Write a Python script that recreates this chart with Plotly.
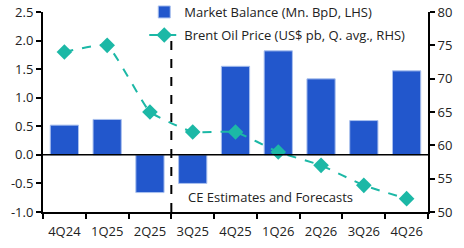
import plotly.graph_objects as go

categories = ["4Q24", "1Q25", "2Q25", "3Q25", "4Q25", "1Q26", "2Q26", "3Q26", "4Q26"]
market_balance = [0.52, 0.62, -0.66, -0.50, 1.55, 1.82, 1.33, 0.60, 1.47]
brent_price = [74, 75, 65, 62, 62, 59, 57, 54, 52]
left_ticks = [2.5, 2.0, 1.5, 1.0, 0.5, 0.0, -0.5, -1.0]
right_ticks = [80, 75, 70, 65, 60, 55, 50]

FONT = "Open Sans"
FS = 13
BLUE = "#2257CC"
TEAL = "#1CB8A6"

fig = go.Figure()
fig.add_trace(go.Bar(
    x=categories, y=market_balance, name="Market Balance (Mn. BpD, LHS)",
    marker=dict(color=BLUE, line=dict(color="#A9C0EE", width=1)), width=0.66,
    yaxis="y", legend="legend"))
fig.add_trace(go.Scatter(
    x=categories, y=brent_price, name="Brent Oil Price (US$ pb, Q. avg., RHS)",
    mode="lines+markers", line=dict(color=TEAL, width=2, dash="dash", shape="spline", smoothing=0.35),
    marker=dict(symbol="diamond", size=12, color=TEAL), yaxis="y2", legend="legend2"))

fig.add_shape(type="line", xref="x", yref="y", x0=2.5, x1=2.5, y0=-1.0, y1=2.1,
              line=dict(color="black", width=2, dash="dash"), layer="below")
fig.add_shape(type="line", xref="paper", yref="y", x0=0, x1=1, y0=0, y1=0,
              line=dict(color="black", width=1.5))
fig.add_annotation(x=2.84, y=-0.74, xref="x", yref="y", text="CE Estimates and Forecasts",
                   showarrow=False, xanchor="left", yanchor="middle",
                   font=dict(family=FONT, size=FS, color="#222"))

leg_common = dict(xanchor="left", yanchor="middle", bgcolor="rgba(0,0,0,0)",
                  font=dict(family=FONT, size=FS, color="#222"), itemwidth=30)
fig.update_layout(
    width=464, height=248, margin=dict(l=43, r=36, t=12, b=36, autoexpand=False),
    plot_bgcolor="white", paper_bgcolor="white",
    font=dict(family=FONT, size=FS, color="#222"),
    showlegend=True,
    legend=dict(x=0.263, y=1.0, **leg_common),
    legend2=dict(x=0.263, y=0.885, **leg_common),
    xaxis=dict(type="category", showgrid=False, showline=True, linecolor="black", linewidth=2,
               ticks="outside", tickson="boundaries", ticklen=5, tickwidth=2, tickcolor="black",
               range=[-0.5, 8.5], zeroline=False, ticklabelstandoff=6, tickangle=0,
               automargin=False),
    yaxis=dict(range=[-1.0, 2.5], tickvals=left_ticks, ticktext=[f"{v:.1f}" for v in left_ticks],
               showgrid=False, showline=True, linecolor="black", linewidth=2, ticks="outside",
               ticklen=5, tickwidth=2, tickcolor="black", zeroline=False, automargin=False),
    yaxis2=dict(range=[50, 80], tickvals=right_ticks, overlaying="y", side="right",
                showgrid=False, showline=True, linecolor="black", linewidth=2, ticks="outside",
                ticklen=5, tickwidth=2, tickcolor="black", zeroline=False, automargin=False),
)

fig.write_html("out.html")
